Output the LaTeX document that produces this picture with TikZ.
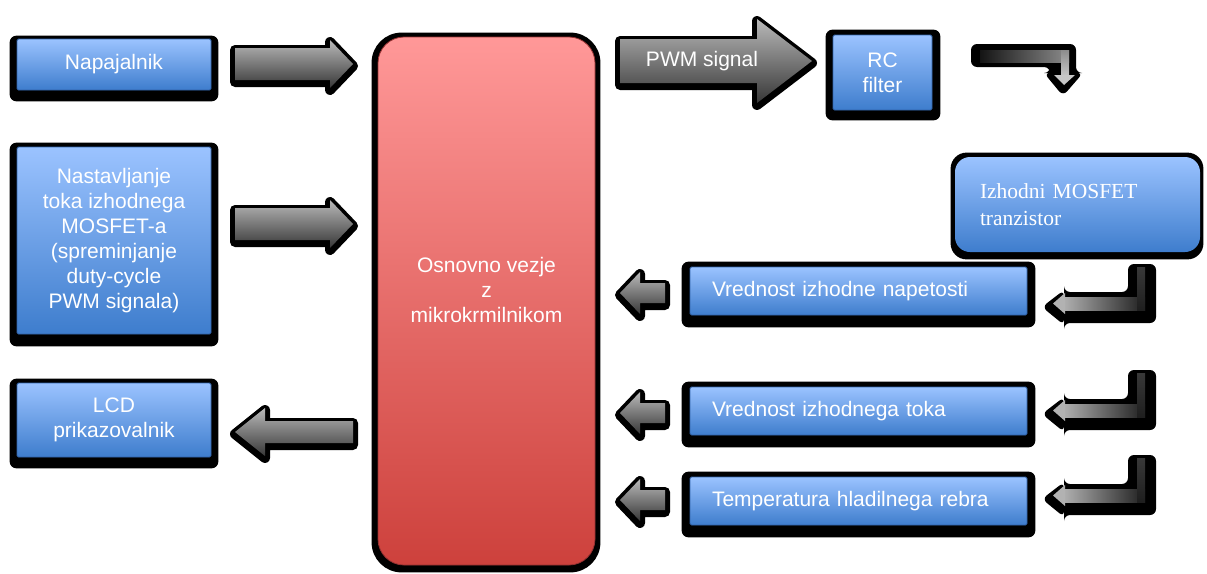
\documentclass[tikz,border=0pt]{standalone}
\usepackage{fontspec}
\setmainfont{Liberation Sans}
\newfontfamily\serifA{Liberation Serif}
\pgfdeclarelayer{bgwhite}
\pgfdeclarelayer{bgshadow}
\pgfsetlayers{bgwhite,bgshadow,main}

\definecolor{bluetop}{RGB}{155,195,255}
\definecolor{bluebot}{RGB}{62,125,205}
\definecolor{blueline}{RGB}{50,100,170}
\definecolor{redtop}{RGB}{255,152,152}
\definecolor{redbot}{RGB}{205,65,60}
\definecolor{redline}{RGB}{150,50,50}
\definecolor{grtop}{RGB}{185,185,185}
\definecolor{grbot}{RGB}{55,55,55}

\tikzset{
  txt/.style={text=white, font=\fontsize{21}{25}\selectfont},
  bluebox/.style={txt, draw=blueline, line width=0.8pt, top color=bluetop, bottom color=bluebot,
    align=center, inner sep=0pt, rounded corners=1.5pt},
  sidebox/.style={bluebox, align=left, inner xsep=22pt, text width=293pt, minimum height=48pt},
  redbox/.style={draw=redline, line width=0.8pt, top color=redtop, bottom color=redbot,
    rounded corners=26pt, minimum width=217pt, minimum height=528pt},
  glow/.style={fill=black, draw=black, line width=10pt, line join=round},
  arrfill/.style={top color=grtop, bottom color=grbot},
  shadowbox/.style={fill=black},
}

% #1 tail x, #2 tip x, #3 centre y, #4 shaft half, #5 head half, #6 head length (signed)
\newcommand\blockarrow[6]{%
  \path[glow, shift={(0,2)}] (#1,#3-#4) -- (#2-#6,#3-#4) -- (#2-#6,#3-#5) -- (#2,#3)
     -- (#2-#6,#3+#5) -- (#2-#6,#3+#4) -- (#1,#3+#4) -- cycle;
  \shade[arrfill] (#1,#3-#4) -- (#2-#6,#3-#4) -- (#2-#6,#3-#5) -- (#2,#3)
     -- (#2-#6,#3+#5) -- (#2-#6,#3+#4) -- (#1,#3+#4) -- cycle;
}
% bent arrow on the right: #1 top y, #2 centre y of horizontal part
\newcommand\bentarrow[2]{%
  \fill[black, rounded corners=6pt] (1128,#1-3) -- (1156,#1-3) -- (1156,#2+20) -- (1064,#2+20)
     -- (1064,#2+22) -- (1042,#2+4) -- (1064,#2-13) -- (1064,#2-11) -- (1128,#2-11) -- cycle;
  \shade[left color=black!30, right color=black!88] (1062,#2-6) rectangle (1145,#2+7);
  \shade[top color=black!78, bottom color=black!88] (1137,#1) rectangle (1145,#2+7);
  \fill[black!30] (1053,#2+0.5) -- (1065,#2-10) -- (1065,#2+11) -- cycle;
}

\begin{document}
\begin{tikzpicture}[x=1pt,y=-1pt]
\begin{pgfonlayer}{bgwhite}
  \fill[white] (0,0) rectangle (1207,573);
\end{pgfonlayer}
\useasboundingbox (0,0) rectangle (1207,573);

% boxes
\node[bluebox, minimum width=194pt, minimum height=51pt] (nap) at (114,64.5) {Napajalnik};
\node[bluebox, minimum width=194pt, minimum height=187pt] (nast) at (114,240.5)
  {Nastavljanje\\toka izhodnega\\MOSFET-a\\(spreminjanje\\duty-cycle\\PWM signala)};
\node[bluebox, minimum width=194pt, minimum height=74pt] (lcd) at (114,420) {LCD\\prikazovalnik};
\node[redbox] (mcu) at (486.5,301) {};
\node[txt, align=center, inner sep=0pt] (mcutext) at (486.5,290) {Osnovno vezje\\z\\mikrokrmilnikom};
\node[bluebox, minimum width=99pt, minimum height=75pt] (rc) at (882.5,72.5) {RC\\filter};
\node[bluebox, draw=none, rounded corners=15pt, minimum width=245pt, minimum height=95pt,
      align=left, inner xsep=25pt, text width=195pt] (mos) at (1077.5,204.5)
  {\raisebox{6pt}{\parbox{195pt}{\serifA\fontsize{21.5}{27}\selectfont Izhodni MOSFET\\tranzistor}}};
\node[sidebox] (vn) at (858.5,291) {Vrednost izhodne napetosti};
\node[sidebox] (vt) at (858.5,411) {Vrednost izhodnega toka};
\node[sidebox] (temp) at (858.5,501) {Temperatura hladilnega rebra};

% shadows
\begin{pgfonlayer}{bgshadow}
  \fill[shadowbox, rounded corners=7pt] ([shift={(-7,-3)}]nap.north west) rectangle ([shift={(7,11)}]nap.south east);
  \fill[shadowbox, rounded corners=7pt] ([shift={(-7,-4)}]nast.north west) rectangle ([shift={(7,12)}]nast.south east);
  \fill[shadowbox, rounded corners=7pt] ([shift={(-7,-4)}]lcd.north west) rectangle ([shift={(7,11)}]lcd.south east);
  \fill[shadowbox, rounded corners=30pt] ([shift={(-6,-4)}]mcu.north west) rectangle ([shift={(5,7)}]mcu.south east);
  \fill[shadowbox, rounded corners=7pt] ([shift={(-7,-5)}]rc.north west) rectangle ([shift={(8,10)}]rc.south east);
  \fill[shadowbox, rounded corners=16pt] ([shift={(-4,-4)}]mos.north west) rectangle ([shift={(3,7)}]mos.south east);
  \fill[shadowbox, rounded corners=7pt] ([shift={(-8,-5)}]vn.north west) rectangle ([shift={(8,12)}]vn.south east);
  \fill[shadowbox, rounded corners=7pt] ([shift={(-8,-5)}]vt.north west) rectangle ([shift={(8,12)}]vt.south east);
  \fill[shadowbox, rounded corners=7pt] ([shift={(-8,-5)}]temp.north west) rectangle ([shift={(8,12)}]temp.south east);
\end{pgfonlayer}

% block arrows
\blockarrow{235}{353}{64}{16}{24}{23}
\blockarrow{235}{353}{224}{16}{24}{23}
\blockarrow{353}{235}{432}{11}{24}{-30}
\blockarrow{620}{812}{61}{22}{42}{55}
\node[txt, inner sep=0pt] (pwm) at (702,61) {PWM signal};
\blockarrow{665}{620}{293}{10}{21}{-20}
\blockarrow{665}{620}{413}{10}{21}{-20}
\blockarrow{665}{620}{500}{10}{21}{-20}

% bent arrow at top right
\fill[black, rounded corners=6pt] (971,44) -- (1076,44) -- (1076,73) -- (1083,73) -- (1063,96)
   -- (1044,73) -- (1050,73) -- (1050,67) -- (971,67) -- cycle;
\shade[left color=black!92, right color=black!45] (980,50) rectangle (1069,62);
\shade[top color=black!45, bottom color=black!22] (1061,50) rectangle (1069,76);
\fill[black!22] (1054,75) -- (1075,75) -- (1064,85) -- cycle;

% bent arrows on the right
\bentarrow{267}{303}
\bentarrow{373}{410}
\bentarrow{458}{495}
\end{tikzpicture}
\end{document}
